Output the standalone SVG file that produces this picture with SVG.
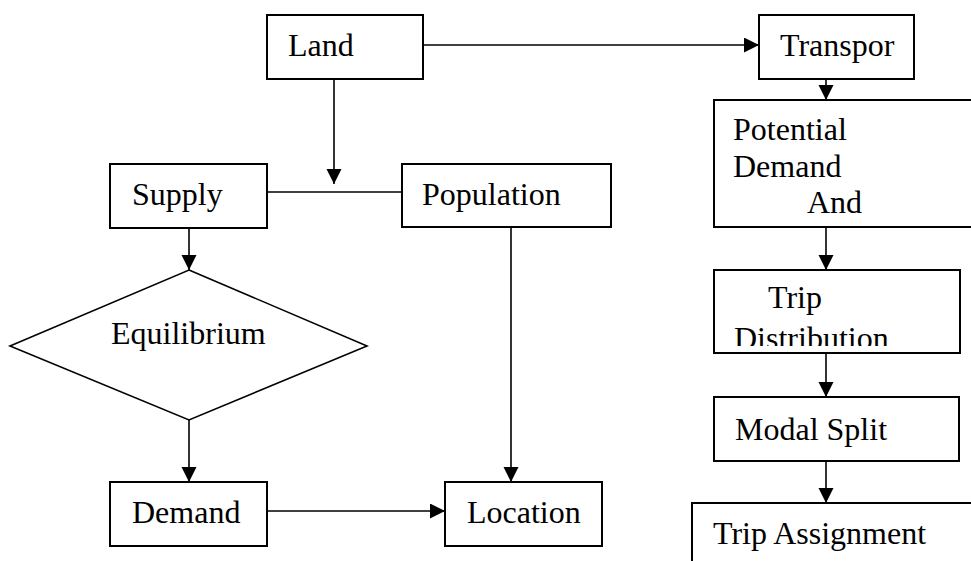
<svg xmlns="http://www.w3.org/2000/svg" width="971" height="561" viewBox="0 0 971 561">
<style>
.box{fill:#fff;stroke:#000;stroke-width:2}
.dia{fill:#fff;stroke:#000;stroke-width:1.6}
.ln{fill:none;stroke:#000;stroke-width:1.6}
.arr{fill:none;stroke:#000;stroke-width:1.6;marker-end:url(#ah)}
text{font-family:"Liberation Serif","Times New Roman","DejaVu Serif",serif;font-size:32px;fill:#000}
</style>
<defs>
<marker id="ah" markerUnits="userSpaceOnUse" markerWidth="16" markerHeight="16" refX="15" refY="7.5" orient="auto">
<path d="M0,0 L15,7.5 L0,15 z" fill="#000"/>
</marker>
<clipPath id="tdclip"><rect x="714" y="270" width="246" height="76"/></clipPath>
</defs>
<rect width="971" height="561" fill="#fff"/>
<g id="connectors">
<path class="arr" d="M423,45 H759"/>
<path class="arr" d="M334,79 V184"/>
<path class="ln" d="M267,192 H402"/>
<path class="arr" d="M189,228 V270"/>
<path class="arr" d="M189,420 V482"/>
<path class="arr" d="M511,227 V482"/>
<path class="arr" d="M267,511 H445"/>
<path class="arr" d="M826,79 V100"/>
<path class="arr" d="M826,227 V270"/>
<path class="arr" d="M826,353 V397"/>
<path class="arr" d="M826,461 V503"/>
</g>
<g id="land"><rect class="box" x="267" y="15" width="156" height="64"/><text x="288" y="56">Land</text></g>
<g id="transpor"><rect class="box" x="759" y="15" width="155" height="64"/><text x="780" y="56">Transpor</text></g>
<g id="supply"><rect class="box" x="110" y="164" width="157" height="64"/><text x="132" y="205">Supply</text></g>
<g id="population"><rect class="box" x="402" y="164" width="209" height="63"/><text x="422" y="205">Population</text></g>
<g id="equilibrium"><polygon class="dia" points="189,270 367,346 189,420 10,346"/><text x="111" y="344">Equilibrium</text></g>
<g id="demand"><rect class="box" x="110" y="482" width="157" height="64"/><text x="132" y="523">Demand</text></g>
<g id="location"><rect class="box" x="445" y="482" width="157" height="64"/><text x="467" y="523">Location</text></g>
<g id="potential"><rect class="box" x="714" y="100" width="270" height="127"/><text x="733" y="140">Potential</text><text x="733" y="177">Demand</text><text x="807" y="213">And</text></g>
<g id="tripdist"><rect class="box" x="714" y="270" width="246" height="83"/><text x="768" y="308">Trip</text><text x="734" y="349" clip-path="url(#tdclip)">Distribution</text></g>
<g id="modal"><rect class="box" x="714" y="397" width="245" height="64"/><text x="735" y="440">Modal Split</text></g>
<g id="tripassign"><path class="box" d="M692,561 V503 H975" fill="none"/><text x="713" y="544">Trip Assignment</text></g>
</svg>
